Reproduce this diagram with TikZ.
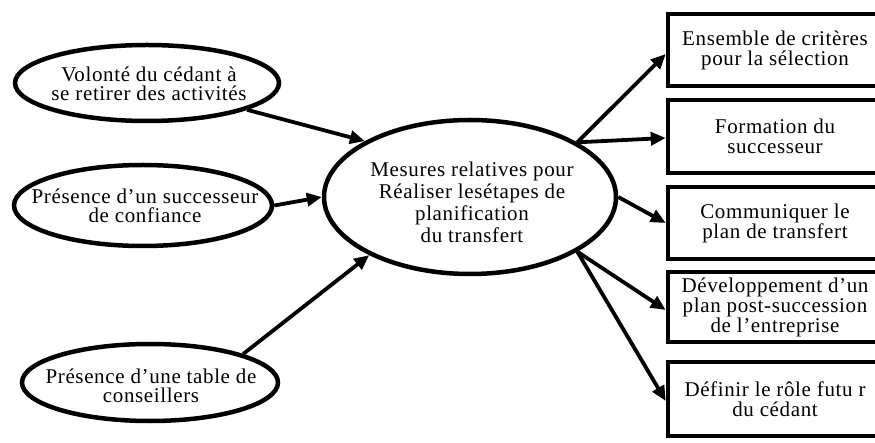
\documentclass[tikz,border=0pt]{standalone}
\usepackage{fontspec}
\setmainfont{Liberation Serif}[LetterSpace=3]
\usetikzlibrary{shapes.geometric,arrows.meta}
\begin{document}
\begin{tikzpicture}[x=1pt,y=-1pt,
  oval/.style={ellipse,draw,line width=4.5pt,inner sep=0pt},
  txt/.style={align=center,inner sep=0pt,font=\fontsize{21}{19}\selectfont},
  bigtxt/.style={align=center,inner sep=0pt,font=\fontsize{21}{22}\selectfont},
  stepbox/.style={rectangle,draw,line width=4.5pt,minimum width=214pt,inner sep=0pt,align=center,font=\fontsize{21}{20}\selectfont},
  arr/.style={line width=3.8pt,-{Triangle[length=15pt,width=13pt]}}]
\useasboundingbox (0,0) rectangle (875,443);
\clip (0,0) rectangle (875,443);
% left ovals
\node[oval,minimum width=264pt,minimum height=76pt] (e1) at (147,83) {};
\node[txt] (t1) at (149,84) {Volonté du cédant à\\se retirer des activités};
\node[oval,minimum width=258pt,minimum height=81pt] (e2) at (143,205.5) {};
\node[txt] (t2) at (145,206) {Présence d’un successeur\\de confiance};
\node[oval,minimum width=256pt,minimum height=77pt] (e3) at (150,382.5) {};
\node[txt] (t3) at (151,386) {Présence d’une table de\\conseillers};
% centre
\node[oval,minimum width=292pt,minimum height=154pt] (c) at (470,197) {};
\node[bigtxt] (tc) at (472,202) {Mesures relatives pour\\Réaliser lesétapes de\\planification\\du transfert};
% right boxes
\node[stepbox,minimum height=72pt] (b1) at (775,50) {Ensemble de critères\\pour la sélection};
\node[stepbox,minimum height=73pt] (b2) at (775,136.5) {Formation du\\successeur};
\node[stepbox,minimum height=72pt] (b3) at (775,223) {Communiquer le\\plan de transfert};
\node[stepbox,minimum height=70pt] (b4) at (775,307) {Développement d’un\\plan post-succession\\de l’entreprise};
\node[stepbox,minimum height=74pt] (b5) at (775,399) {Définir le rôle futu r\\du cédant};
% arrows in
\draw[arr] (e1.-15) -- (c.152);
\draw[arr] (e2.east) -- (c.west);
\draw[arr] (e3.17) -- (c.210);
% arrows out
\draw[arr] (c.27) -- ([yshift=-4pt]b1.west);
\draw[arr] (c.27) -- ([yshift=-1.5pt]b2.west);
\draw[arr] (c.east) -- (b3.west);
\draw[arr] (c.-27) -- ([yshift=-3pt]b4.west);
\draw[arr] (c.-27) -- ([yshift=-2pt]b5.west);
\end{tikzpicture}
\end{document}
